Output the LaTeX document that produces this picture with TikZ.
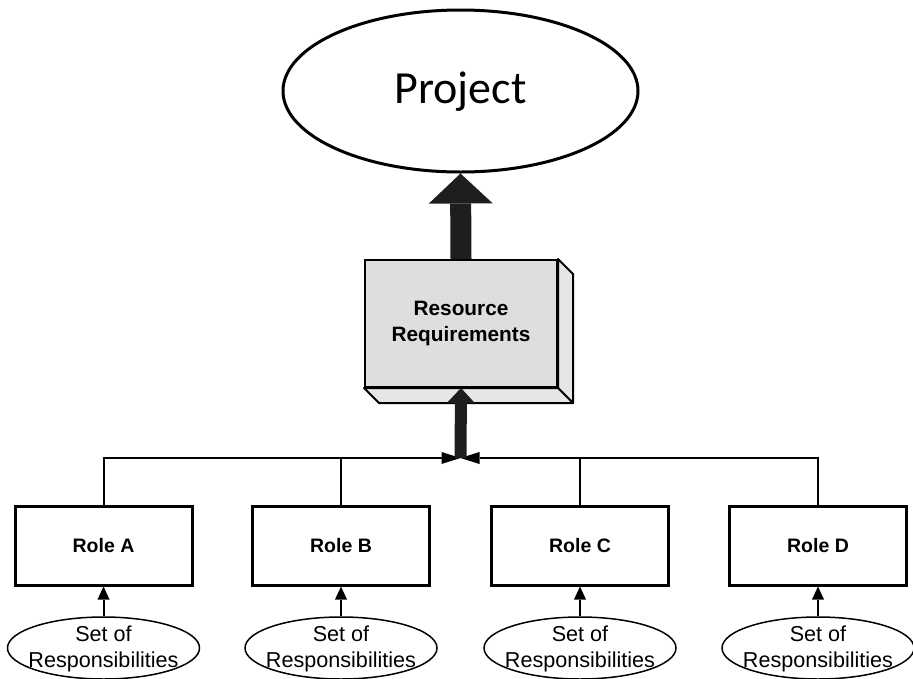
\documentclass[tikz,border=0pt]{standalone}
\usepackage{fontspec}
\setmainfont{Liberation Sans}
\newfontfamily\calib{Carlito}
\usetikzlibrary{shapes.geometric,arrows.meta,calc}
\definecolor{boxgray}{RGB}{222,222,222}
\definecolor{sidegray}{RGB}{230,230,230}
\definecolor{arrowdark}{RGB}{30,30,30}
\tikzset{
  projell/.style={ellipse,draw,line width=3pt,minimum width=355pt,minimum height=162pt,inner sep=0pt},
  rrbox/.style={rectangle,draw,line width=2pt,fill=boxgray,minimum width=192pt,minimum height=127pt,inner sep=0pt,align=center,font=\bfseries\fontsize{20.8pt}{26pt}\selectfont},
  rolebox/.style={rectangle,draw,line width=3pt,minimum width=177pt,minimum height=79pt,inner sep=0pt,font=\bfseries\fontsize{19.5pt}{23pt}\selectfont},
  setell/.style={ellipse,draw,line width=1.5pt,minimum width=192pt,minimum height=62pt,inner sep=0pt},
  settxt/.style={inner sep=0pt,align=center,font=\fontsize{21.6pt}{26pt}\selectfont},
  thinline/.style={line width=2pt},
  bigarrow/.style={arrowdark,line width=21pt,-{Triangle[width=64pt,length=30pt,line width=0pt]}},
  midarrow/.style={arrowdark,line width=12pt,-{Triangle[width=28pt,length=15pt,line width=0pt]}},
  bowarrow/.style={line width=2pt,-{Triangle[width=12pt,length=19pt,line width=0pt]}},
  smallarrow/.style={line width=2pt,-{Triangle[width=12pt,length=13pt,line width=0pt]}}
}
\begin{document}
\begin{tikzpicture}[x=1pt,y=-1pt]
\useasboundingbox (0,0) rectangle (913,678);
% Project
\node[projell] (proj) at (460.5,91) {};
\node[inner sep=0pt,font=\calib\fontsize{46pt}{50pt}\selectfont] (projtxt) at (460.5,92) {Project};
% Resource Requirements box (3D)
\node[rrbox] (rr) at (461,323.5) {};
\coordinate (rrNE2) at ($(rr.north east)+(15,15)$);
\coordinate (rrSE2) at ($(rr.south east)+(15,15)$);
\coordinate (rrSW2) at ($(rr.south west)+(15,15)$);
\draw[line width=2pt,fill=sidegray,line join=round] (rr.north east) -- (rrNE2) -- (rrSE2) -- (rr.south east) -- cycle;
\draw[line width=2pt,fill=sidegray,line join=round] (rr.south west) -- (rr.south east) -- (rrSE2) -- (rrSW2) -- cycle;
\node[inner sep=0pt,align=center,font=\bfseries\fontsize{20.8pt}{26pt}\selectfont] (rrtxt) at (rr.center) {Resource\\Requirements};
% big arrow
\draw[bigarrow] (rr.north) -- (proj.south);
% roles
\node[rolebox] (rA) at (103.5,545.5) {Role A};
\node[rolebox] (rB) at (341,545.5) {Role B};
\node[rolebox] (rC) at (580,545.5) {Role C};
\node[rolebox] (rD) at (818,545.5) {Role D};
% junction
\coordinate (junc) at (460.5,458);
\draw[bowarrow] (rA.north) |- (junc);
\draw[bowarrow] (rD.north) |- (junc);
\draw[thinline] (rB.north) -- (rB.north |- junc);
\draw[thinline] (rC.north) -- (rC.north |- junc);
\draw[midarrow] (junc) -- (rr.south);
% responsibility sets
\foreach \r/\x in {A/103.5,B/341,C/580,D/818}{
  \node[setell] (s\r) at (\x,648) {};
  \draw[smallarrow] (s\r.north) -- (r\r.south);
  \node[settxt] (st\r) at (\x,649) {Set of\\Responsibilities};
}
\end{tikzpicture}
\end{document}
